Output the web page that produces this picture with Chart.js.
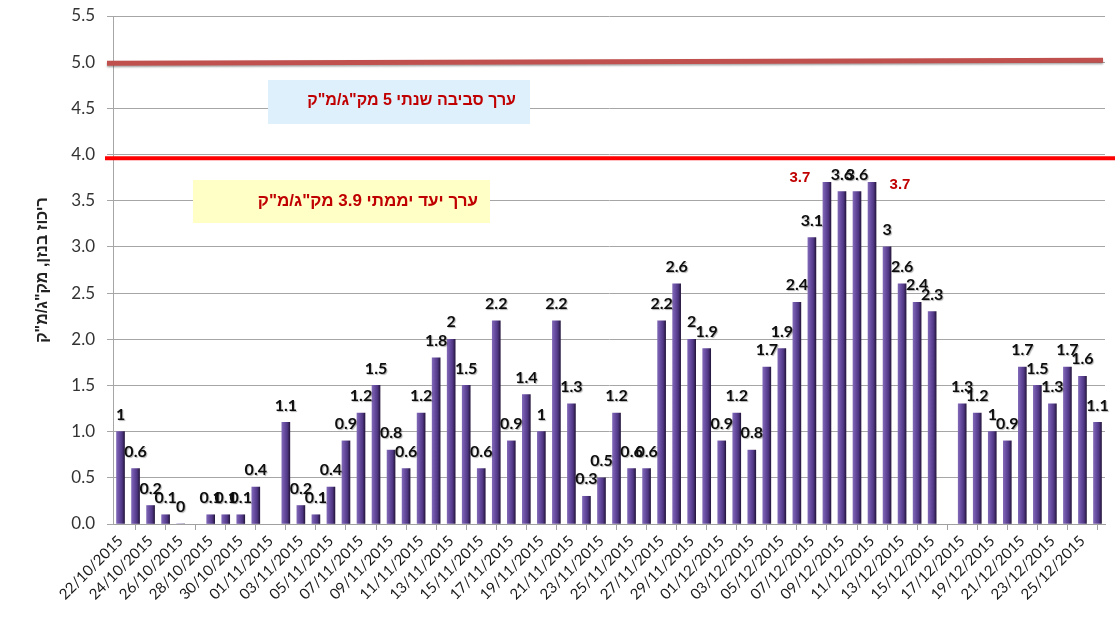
<!DOCTYPE html>
<html>
<head>
<meta charset="utf-8">
<script src="https://cdn.jsdelivr.net/npm/chart.js@4.4.0/dist/chart.umd.min.js"></script>
<style>
  html, body { margin: 0; padding: 0; background: #fff; }
  #wrap { width: 1115px; height: 620px; position: relative; }
</style>
</head>
<body>
<div id="wrap"><canvas id="benzene"></canvas></div>
<script>
// daily benzene concentration, 22/10/2015 - 26/12/2015
const dates = [
  '22/10/2015','23/10/2015','24/10/2015','25/10/2015','26/10/2015','27/10/2015','28/10/2015','29/10/2015','30/10/2015','31/10/2015',
  '01/11/2015','02/11/2015','03/11/2015','04/11/2015','05/11/2015','06/11/2015','07/11/2015','08/11/2015','09/11/2015','10/11/2015',
  '11/11/2015','12/11/2015','13/11/2015','14/11/2015','15/11/2015','16/11/2015','17/11/2015','18/11/2015','19/11/2015','20/11/2015',
  '21/11/2015','22/11/2015','23/11/2015','24/11/2015','25/11/2015','26/11/2015','27/11/2015','28/11/2015','29/11/2015','30/11/2015',
  '01/12/2015','02/12/2015','03/12/2015','04/12/2015','05/12/2015','06/12/2015','07/12/2015','08/12/2015','09/12/2015','10/12/2015',
  '11/12/2015','12/12/2015','13/12/2015','14/12/2015','15/12/2015','16/12/2015','17/12/2015','18/12/2015','19/12/2015','20/12/2015',
  '21/12/2015','22/12/2015','23/12/2015','24/12/2015','25/12/2015','26/12/2015'
];
const benzene = [
  1, 0.6, 0.2, 0.1, 0, null, 0.1, 0.1, 0.1, 0.4,
  null, 1.1, 0.2, 0.1, 0.4, 0.9, 1.2, 1.5, 0.8, 0.6,
  1.2, 1.8, 2, 1.5, 0.6, 2.2, 0.9, 1.4, 1, 2.2,
  1.3, 0.3, 0.5, 1.2, 0.6, 0.6, 2.2, 2.6, 2, 1.9,
  0.9, 1.2, 0.8, 1.7, 1.9, 2.4, 3.1, 3.7, 3.6, 3.6,
  3.7, 3, 2.6, 2.4, 2.3, null, 1.3, 1.2, 1, 0.9,
  1.7, 1.5, 1.3, 1.7, 1.6, 1.1
];
const yTicks = [0, 0.5, 1, 1.5, 2, 2.5, 3, 3.5, 4, 4.5, 5, 5.5];
const annualLimit = 5.0;     // ערך סביבה שנתי
const dailyTarget = 3.96;    // ערך יעד יממתי (drawn just under 4.0)
const annualText = 'ערך סביבה שנתי 5 מק"ג/מ"ק';
const dailyText = 'ערך יעד יממתי 3.9 מק"ג/מ"ק';
const yTitle = 'ריכוז בנזן, מק"ג/מ"ק';
const redLabelIdx = [47, 50];

// bar fill: cylinder-like shading
function barFill(c) {
  const chart = c.chart;
  if (!chart.chartArea || c.dataIndex === undefined) return '#5d4290';
  const x = chart.scales.x.getPixelForValue(c.dataIndex);
  const g = chart.ctx.createLinearGradient(x - 4, 0, x + 4, 0);
  g.addColorStop(0, '#8068b5');
  g.addColorStop(0.3, '#6a4fa3');
  g.addColorStop(0.7, '#4f3682');
  g.addColorStop(1, '#26173f');
  return g;
}

const limitsPlugin = {
  id: 'limits',
  afterDatasetsDraw(chart) {
    const ctx = chart.ctx;
    const y = chart.scales.y;
    const area = chart.chartArea;
    ctx.save();
    // annual limit line
    let py = y.getPixelForValue(annualLimit);
    ctx.shadowColor = 'rgba(0,0,0,0.35)';
    ctx.shadowOffsetY = 1.5;
    ctx.shadowBlur = 2;
    ctx.strokeStyle = '#c0504d';
    ctx.lineWidth = 5;
    ctx.beginPath();
    ctx.moveTo(area.left - 6, py + 1);
    ctx.lineTo(area.right - 2, py - 2);
    ctx.stroke();
    ctx.shadowColor = 'transparent';
    // daily target line
    py = y.getPixelForValue(dailyTarget);
    ctx.strokeStyle = '#ff0000';
    ctx.lineWidth = 4;
    ctx.beginPath();
    ctx.moveTo(area.left - 8, py);
    ctx.lineTo(1115, py);
    ctx.stroke();

    // text boxes
    ctx.direction = 'rtl';
    ctx.textAlign = 'right';
    ctx.textBaseline = 'middle';
    ctx.fillStyle = '#ddf0fc';
    ctx.fillRect(268, 80, 262, 44);
    ctx.fillStyle = '#c00000';
    ctx.font = 'bold 16px "Liberation Sans", Arial, sans-serif';
    ctx.fillText(annualText, 516, 101);

    ctx.fillStyle = '#ffffc6';
    ctx.fillRect(193, 180, 297, 43);
    ctx.fillStyle = '#c00000';
    ctx.font = 'bold 17px "Liberation Sans", Arial, sans-serif';
    ctx.fillText(dailyText, 478, 201);
    ctx.restore();
  }
};

const valueLabels = {
  id: 'valueLabels',
  afterDatasetsDraw(chart) {
    const ctx = chart.ctx;
    const meta = chart.getDatasetMeta(0);
    ctx.save();
    ctx.textAlign = 'center';
    ctx.textBaseline = 'bottom';
    meta.data.forEach((bar, i) => {
      const v = benzene[i];
      if (v === null || v === undefined) return;
      let x = bar.x, yy = bar.y - 9;
      if (redLabelIdx.includes(i)) {
        ctx.font = 'bold 15px "Liberation Sans", Arial, sans-serif';
        ctx.fillStyle = '#c00000';
        if (i === redLabelIdx[0]) { x -= 27; yy = bar.y + 3; }
        else { x += 28; yy = bar.y + 10; }
      } else {
        ctx.font = 'bold 16px Lato, "Open Sans", sans-serif';
        ctx.fillStyle = '#0d0d0d';
        ctx.shadowColor = 'rgba(0,0,0,0.3)';
        ctx.shadowOffsetX = 1;
        ctx.shadowOffsetY = 1;
        ctx.shadowBlur = 1;
      }
      ctx.fillText(String(v), x, yy);
      ctx.shadowColor = 'transparent';
    });
    ctx.restore();
  }
};

new Chart(document.getElementById('benzene'), {
  type: 'bar',
  data: {
    labels: dates,
    datasets: [{
      label: 'benzene',
      data: benzene,
      backgroundColor: barFill,
      borderWidth: 0,
      barThickness: 8
    }]
  },
  options: {
    responsive: true,
    maintainAspectRatio: false,
    animation: false,
    layout: { padding: { top: 16, right: 10, left: 0, bottom: 0 } },
    plugins: {
      legend: { display: false },
      tooltip: { enabled: false },
      title: { display: false }
    },
    scales: {
      x: {
        offset: true,
        grid: {
          offset: true,
          drawOnChartArea: false,
          color: '#a0a0a0',
          tickLength: 6
        },
        border: { color: '#a0a0a0' },
        ticks: {
          autoSkip: false,
          minRotation: 45,
          maxRotation: 45,
          padding: 2,
          color: '#1a1a1a',
          font: { family: 'Lato', size: 15 },
          callback: function (val, i) { return i % 2 === 0 ? dates[i] : null; }
        },
        afterFit: function (s) { s.height = 96; s.paddingTop = 0; s.paddingRight = 0; }
      },
      y: {
        min: 0,
        max: 5.5,
        afterBuildTicks: function (s) { s.ticks = yTicks.map(v => ({ value: v })); },
        grid: { color: '#a6a6a6', tickLength: 6 },
        border: { color: '#a6a6a6' },
        ticks: {
          padding: 12,
          color: '#333',
          font: { family: 'Lato', size: 17 },
          callback: function (v) { return Number(v).toFixed(1); }
        },
        title: {
          display: true,
          text: yTitle,
          color: '#222',
          padding: { top: 33, bottom: 0 },
          font: { family: '"Liberation Sans", Arial, sans-serif', size: 16, weight: 'bold' }
        },
        afterFit: function (s) { s.width = 113; s.paddingTop = 0; s.paddingBottom = 0; }
      }
    }
  },
  plugins: [limitsPlugin, valueLabels]
});
</script>
</body>
</html>
